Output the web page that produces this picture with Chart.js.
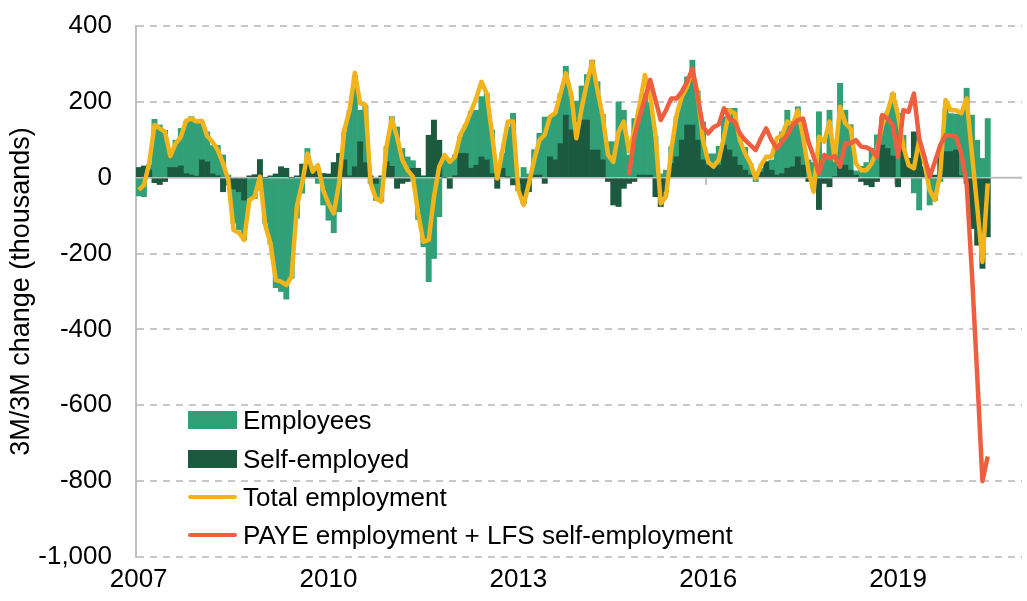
<!DOCTYPE html>
<html><head><meta charset="utf-8">
<script src="https://cdn.jsdelivr.net/npm/chart.js@4.4.1/dist/chart.umd.min.js"></script>
<style>
html,body{margin:0;padding:0;background:#fff;}
#wrap{position:relative;width:1027px;height:601px;}
canvas{display:block;}
.legend{position:absolute;left:188px;top:0;font-family:'Liberation Sans',Arial,sans-serif;font-size:26px;color:#000;}
.item{position:absolute;left:0;display:flex;align-items:center;white-space:nowrap;height:30px;}
.sw{width:49px;margin-right:6px;}
</style></head><body>
<div id="wrap"><canvas id="c" width="1027" height="601"></canvas>
<div class="legend" id="legend"></div>
</div>
<script>
// ---- categories ----
const startYear = 2007, endYear = 2020;
const months = [];
for (let y = startYear; y <= endYear; y++) for (let m = 1; m <= 12; m++) months.push(y + '-' + String(m).padStart(2, '0'));
const tickYears = ['2007', '2010', '2013', '2016', '2019'];

// ---- series (thousands, 3M/3M change), Jan 2007 .. Jun 2020 ----
const employees = [
-48,-50,15,154,139,125,45,72,99,137,
154,140,100,79,75,80,60,7,-90,-101,
-105,-55,-55,-32,-120,-175,-290,-300,-320,-265,
-107,-41,41,5,-15,-72,-112,-145,-90,74,
173,240,83,150,-15,-45,-63,40,131,134,
77,55,20,-110,-182,-274,-213,-103,50,47,
55,44,75,150,145,159,175,115,5,40,
132,170,-20,27,10,67,110,160,106,123,
132,129,88,50,90,120,237,180,120,95,
95,200,178,60,156,175,215,190,108,10,
20,44,106,123,127,171,130,100,30,30,
50,75,110,128,73,60,30,-10,10,0,
27,75,110,153,120,132,100,47,40,174,
55,178,50,211,145,120,11,30,40,77,
113,75,97,165,170,30,0,-40,-85,0,
-72,-60,-10,114,100,95,165,236,165,99,
51,156];
const selfEmployed = [
27,31,20,-13,-18,-10,27,27,31,11,
7,4,47,42,10,5,-37,-19,-30,-37,
-59,5,8,48,0,5,10,29,25,0,
5,36,36,25,25,11,10,40,64,47,
5,29,95,40,5,-15,5,42,30,-28,
-15,-10,25,25,5,112,152,99,0,-28,
5,64,64,25,33,55,47,11,-28,25,
2,-19,-15,-68,-37,7,7,-15,55,47,
90,165,126,152,152,152,73,73,47,-10,
-72,-76,-28,-15,-10,7,7,7,-50,-76,
-37,38,55,99,139,139,99,47,33,33,
33,86,73,55,33,20,7,5,15,42,
20,7,11,25,29,55,33,-10,-30,-84,
-15,-24,3,38,33,20,7,-10,-19,-24,
-10,86,77,57,-24,82,51,121,82,29,
11,7,73,69,69,73,5,-15,-134,-178,
-239,-156];
const totalEmployment = [
-32,-20,38,139,130,121,57,90,108,150,
156,148,150,110,95,73,38,-6,-138,-145,
-164,-59,-50,3,-125,-173,-270,-274,-283,-261,
-76,-15,64,16,33,-33,-68,-94,-15,126,
178,277,196,192,-15,-55,-63,82,156,108,
47,20,3,-94,-169,-164,-50,29,60,42,
55,113,139,174,209,253,222,117,-2,73,
148,148,-33,-72,-15,47,99,113,161,170,
222,275,222,104,183,249,306,231,161,60,
42,121,148,69,126,192,271,214,113,-68,
-50,73,165,214,240,284,222,99,42,29,
47,108,178,170,99,64,38,-2,33,55,
55,104,113,148,139,178,108,20,-37,108,
95,148,47,187,143,130,38,20,20,38,
73,139,174,222,165,82,33,25,99,38,
-33,-59,11,205,178,178,170,209,64,-76,
-222,-15];
const payeEmployment = [
null,null,null,null,null,null,null,null,null,null,
null,null,null,null,null,null,null,null,null,null,
null,null,null,null,null,null,null,null,null,null,
null,null,null,null,null,null,null,null,null,null,
null,null,null,null,null,null,null,null,null,null,
null,null,null,null,null,null,null,null,null,null,
null,null,null,null,null,null,null,null,null,null,
null,null,null,null,null,null,null,null,null,null,
null,null,null,null,null,null,null,null,null,null,
null,null,null,7,108,161,209,258,205,152,
178,209,209,227,253,288,214,134,117,133,
140,183,156,148,117,99,86,73,104,130,
99,77,95,113,139,152,156,95,55,11,
60,51,57,29,91,91,99,82,80,73,
55,165,156,139,55,178,174,222,104,55,
3,42,86,112,112,108,64,-15,-250,-520,
-800,-735];

// ---- styles ----
const C_EMP = '#32a077', C_SELF = '#1c5a40', C_TOT = '#f2b31b', C_PAYE = '#ee5f3f';
const FONT = "'Liberation Sans', Arial, sans-serif";

// legend (HTML text)
const legendItems = [
  {label:'Employees', color:C_EMP, kind:'box', cy:420},
  {label:'Self-employed', color:C_SELF, kind:'box', cy:459},
  {label:'Total employment', color:C_TOT, kind:'line', cy:497},
  {label:'PAYE employment + LFS self-employment', color:C_PAYE, kind:'line', cy:535}
];
const lg = document.getElementById('legend');
legendItems.forEach(it => {
  const d = document.createElement('div'); d.className = 'item'; d.style.top = (it.cy - 15) + 'px';
  const s = document.createElement('div'); s.className = 'sw';
  s.style.height = it.kind === 'box' ? '18px' : '4px'; s.style.background = it.color;
  if (it.kind === 'line') s.style.borderRadius = '2px';
  const t = document.createElement('span'); t.textContent = it.label;
  d.appendChild(s); d.appendChild(t); lg.appendChild(d);
});

const zeroPlugin = {
  id: 'zeroLine',
  beforeDatasetsDraw(chart) {
    const {ctx, chartArea, scales: {x, y}} = chart;
    const y0 = y.getPixelForValue(0);
    ctx.save();
    ctx.strokeStyle = '#bfbfbf'; ctx.lineWidth = 2;
    ctx.beginPath(); ctx.moveTo(chartArea.left, y0); ctx.lineTo(chartArea.right, y0); ctx.stroke();
    const half = (x.getPixelForValue(1) - x.getPixelForValue(0)) / 2;
    months.forEach((m, i) => {
      const [yr, mo] = m.split('-');
      if (mo === '01' && tickYears.includes(yr)) {
        const px = Math.round(x.getPixelForValue(i) - half);
        ctx.beginPath(); ctx.moveTo(px, y0); ctx.lineTo(px, y0 + 7); ctx.stroke();
      }
    });
    ctx.restore();
  }
};

new Chart(document.getElementById('c'), {
  data: {
    labels: months,
    datasets: [
      {type:'bar', label:'Self-employed', data:selfEmployed, backgroundColor:C_SELF, borderWidth:0, stack:'s', order:2, barPercentage:1, categoryPercentage:1},
      {type:'bar', label:'Employees', data:employees, backgroundColor:C_EMP, borderWidth:0, stack:'s', order:2, barPercentage:1, categoryPercentage:1},
      {type:'line', label:'Total employment', data:totalEmployment, borderColor:C_TOT, borderWidth:4.5, pointRadius:0, tension:0, stack:'t', order:1, borderJoinStyle:'round'},
      {type:'line', label:'PAYE employment + LFS self-employment', data:payeEmployment, borderColor:C_PAYE, borderWidth:4.5, pointRadius:0, tension:0, stack:'p', order:0, borderJoinStyle:'round'}
    ]
  },
  options: {
    responsive:false, animation:false,
    layout:{padding:{top:26, right:5, left:0, bottom:0}},
    plugins:{legend:{display:false}, tooltip:{enabled:false}},
    scales:{
      x:{
        stacked:true,
        grid:{display:false, drawTicks:false},
        border:{display:false},
        ticks:{autoSkip:false, maxRotation:0, minRotation:0, padding:7, color:'#000', font:{family:FONT, size:26},
          callback(v, i){ const [yr, mo] = months[i].split('-'); return (mo === '01' && tickYears.includes(yr)) ? yr : ''; }},
        afterFit(s){ s.height = 44; s.paddingLeft = 0; s.paddingRight = 0; }
      },
      y:{
        stacked:true, min:-1000, max:400,
        ticks:{stepSize:200, padding:24, color:'#000', font:{family:FONT, size:26},
          callback(v){ return Number(v).toLocaleString('en-US'); }},
        grid:{color:(c)=> (c.tick && c.tick.value === 0) ? 'rgba(0,0,0,0)' : '#c8c8c8', lineWidth:2, drawTicks:false},
        border:{display:true, color:'#bfbfbf', width:2, dash:[7,6]},
        title:{display:true, text:'3M/3M change (thousands)', color:'#000', font:{family:FONT, size:27}, padding:{top:5, bottom:0}},
        afterFit(s){ s.width = 136; s.paddingTop = 0; s.paddingBottom = 0; }
      }
    }
  },
  plugins:[zeroPlugin]
});
</script>
</body></html>
